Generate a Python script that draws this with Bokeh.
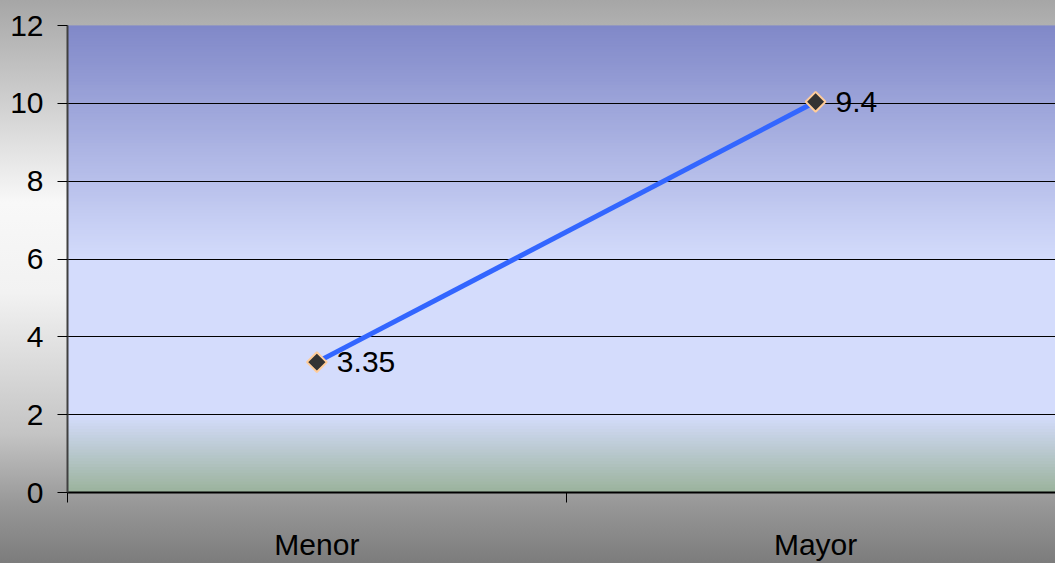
import math
from bokeh.plotting import figure
from bokeh.models import Range1d, FixedTicker, ColumnDataSource, LabelSet
from bokeh.core.properties import value
from bokeh.embed import file_html
from bokeh.resources import INLINE

categories = ["Menor", "Mayor"]
values = [3.35, 10.04]
value_labels = ["3.35", "9.4"]
y_ticks = [0, 2, 4, 6, 8, 10, 12]

FONT = "Liberation Sans"

W, H = 1055, 563
p = figure(width=W, height=H, output_backend="svg", toolbar_location=None,
           x_range=Range1d(0, 1.981), y_range=Range1d(0, 12),
           min_border_left=67, min_border_right=0, min_border_top=25, min_border_bottom=62)

# outer background gradient via CSS
p.styles = {"background": "linear-gradient(to bottom, #a6a6a6 0%, #f8f8f8 36%, #f2f2f2 52%, #c4c4c4 77%, #969696 90%, #7c7c7c 100%)"}
p.border_fill_alpha = 0
p.background_fill_alpha = 0
p.outline_line_color = None

# plot-area gradient bands
def hex2rgb(h):
    h = h.lstrip("#")
    return [int(h[i:i + 2], 16) for i in (0, 2, 4)]

stops = [(0.0, "#9ab29a"), (0.1667, "#d4dcfc"), (0.5, "#d4dcfc"), (1.0, "#8088c8")]
n = 160
bottoms, tops, cols = [], [], []
for i in range(n):
    f0, f1 = i / n, (i + 1) / n
    fm = (f0 + f1) / 2
    for (a, ca), (b, cb) in zip(stops[:-1], stops[1:]):
        if a <= fm <= b:
            t = (fm - a) / (b - a)
            r1, r2 = hex2rgb(ca), hex2rgb(cb)
            c = [round(r1[k] + (r2[k] - r1[k]) * t) for k in range(3)]
            break
    bottoms.append(f0 * 12)
    tops.append(f1 * 12)
    cols.append("#%02x%02x%02x" % tuple(c))
p.quad(left=0, right=2, bottom=bottoms, top=tops, fill_color=cols, line_color=cols,
       line_width=1.5, level="underlay")

# grid
p.xgrid.visible = False
p.ygrid.ticker = FixedTicker(ticks=y_ticks)
p.ygrid.grid_line_color = "#000000"
p.ygrid.grid_line_width = 1
p.ygrid.level = "underlay"

# axes
p.yaxis.ticker = FixedTicker(ticks=y_ticks)
p.yaxis.axis_line_color = "#404040"
p.yaxis.axis_line_width = 2
p.yaxis.major_tick_out = 10
p.yaxis.major_tick_in = 0
p.yaxis.minor_tick_line_color = None
p.yaxis.major_label_standoff = 14
p.yaxis.major_label_text_font = FONT
p.yaxis.major_label_text_font_size = "30px"
p.yaxis.major_label_text_color = "#000000"

xs = [0.5 + i for i in range(len(categories))]
p.xaxis.ticker = FixedTicker(ticks=xs, minor_ticks=[0, 1, 2])
p.xaxis.major_label_overrides = {x: c for x, c in zip(xs, categories)}
p.xaxis.axis_line_color = "#000000"
p.xaxis.axis_line_width = 2
p.xaxis.major_tick_out = 0
p.xaxis.major_tick_in = 0
p.xaxis.major_tick_line_color = None
p.xaxis.minor_tick_out = 10
p.xaxis.minor_tick_in = 0
p.xaxis.minor_tick_line_color = "#000000"
p.xaxis.major_label_standoff = 25
p.xaxis.major_label_text_font = FONT
p.xaxis.major_label_text_font_size = "30px"
p.xaxis.major_label_text_color = "#000000"

src = ColumnDataSource(dict(x=xs, y=values, lab=value_labels))
p.line("x", "y", source=src, line_color="#3366ff", line_width=5)
p.scatter("x", "y", source=src, marker="square", angle=math.pi / 4, size=14,
          fill_color="#333333", line_color="#ffcc99", line_width=2)
p.add_layout(LabelSet(x="x", y="y", text="lab", source=src, x_offset=20, y_offset=0,
                      text_baseline="middle", text_font=value(FONT), text_font_size="30px",
                      text_color="#000000"))

open("out.html", "w").write(file_html(p, INLINE))
